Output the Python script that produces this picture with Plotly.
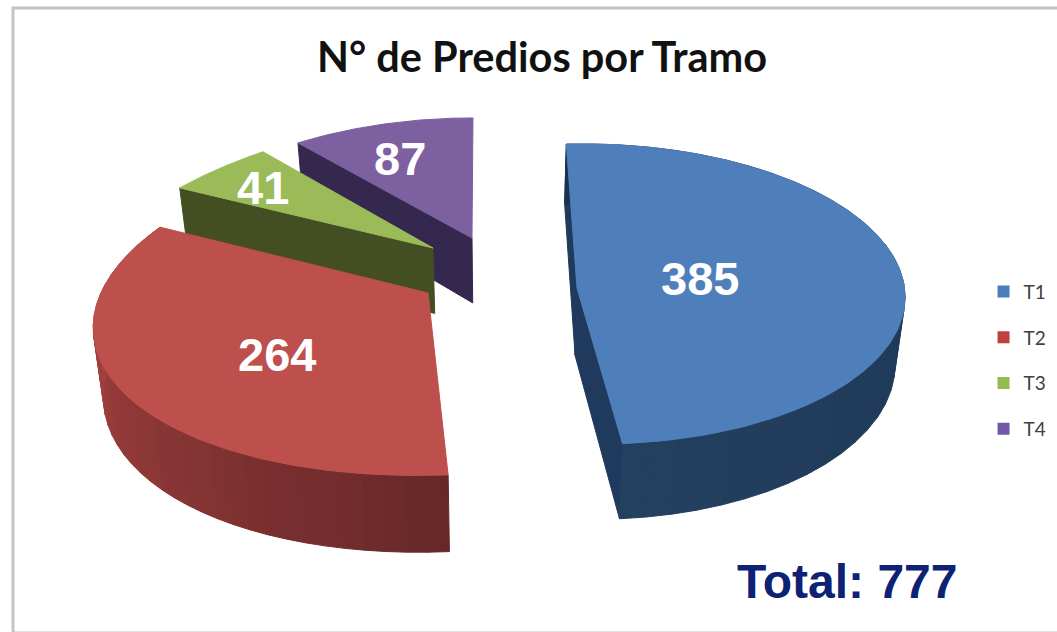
import numpy as np
import plotly.graph_objects as go

# ---- data ----
categories = ["T1", "T2", "T3", "T4"]
values = [385, 264, 41, 87]
title_text = "N° de Predios por Tramo"

# ---- style ----
top_colors = ["#4f7fba", "#bd4f4c", "#9bbb59", "#7d60a0"]
cut_colors = ["#1f3a5c", "#6a2a2a", "#434f22", "#35284f"]
wall_start = ["#1a3150", "#682828", "#434f22", "#35284f"]
wall_end = ["#24405f", "#b34846", "#434f22", "#35284f"]
legend_colors = ["#4a7ebb", "#c0403d", "#94bb50", "#7358a8"]
START_ANGLE = 95.0

# per-slice projection of the unit circle: centre, x=(a,b), y=(c,d), and wedge tip
proj = {
    "T1": dict(cx=590, cy=294, a=315, b=3.8, c=150, d=5, tip=(577, 288)),
    "T2": dict(cx=465, cy=305.4, a=367, b=59.6, c=170, d=5, tip=(428, 293)),
    "T3": dict(cx=408, cy=246, a=300, b=97, c=134, d=0, tip=(433, 248)),
    "T4": dict(cx=430, cy=225, a=250, b=65, c=106.6, d=10, tip=(472, 238)),
}
# which straight cut of each wedge faces the viewer: 0 = first edge, -1 = last edge
cut_faces = {"T1": (0, -1), "T2": (), "T3": (0,), "T4": (0,)}
curved_wall = {"T1": True, "T2": True, "T3": False, "T4": False}


def rim(p, t):
    r = np.radians(t)
    x = p["cx"] + p["a"] * np.cos(r) + p["b"] * np.sin(r)
    y = p["cy"] - p["c"] * np.sin(r) + p["d"] * np.cos(r)
    return x, y


def drop(x, y):
    """Lower edge of the pie's thickness under a point of the top face."""
    return x + 0.025 * (500 - x), y + 53 + 0.05 * y


def mix(c1, c2, f):
    a = [int(c1[i:i + 2], 16) for i in (1, 3, 5)]
    b = [int(c2[i:i + 2], 16) for i in (1, 3, 5)]
    return "rgb(%d,%d,%d)" % tuple(round(u + (v - u) * f) for u, v in zip(a, b))


def poly(xs, ys, color):
    return go.Scatter(x=list(xs), y=list(ys), mode="lines", fill="toself", fillcolor=color,
                      line=dict(color=color, width=1), hoverinfo="skip", showlegend=False)


total = sum(values)
spans = [v / total * 360 for v in values]
bounds = START_ANGLE - np.concatenate([[0], np.cumsum(spans)])

fig = go.Figure()

# paint back slices first, nearest last: T1, T4, T3, T2
for i in [0, 3, 2, 1]:
    name = categories[i]
    p = proj[name]
    t0, t1 = bounds[i], bounds[i + 1]
    ts = np.linspace(t0, t1, 121)
    rx, ry = rim(p, ts)
    tip = p["tip"]
    tx, ty = drop(*tip)

    for edge in cut_faces[name]:
        ex, ey = rx[edge], ry[edge]
        bx, by = drop(ex, ey)
        fig.add_trace(poly([ex, tip[0], tx, bx, ex], [ey, tip[1], ty, by, ey], cut_colors[i]))

    # outer curved wall in strips so that it shades along the arc
    if curved_wall[name]:
        n = 36
        edges = np.linspace(t0, t1, n + 1)
        for k in range(n):
            seg = np.linspace(edges[k], edges[k + 1], 5)
            sx, sy = rim(p, seg)
            dx, dy = drop(sx, sy)
            col = mix(wall_start[i], wall_end[i], k / (n - 1))
            fig.add_trace(poly(np.r_[sx, dx[::-1], sx[0]], np.r_[sy, dy[::-1], sy[0]], col))

    # top face
    fig.add_trace(poly(np.r_[tip[0], rx, tip[0]], np.r_[tip[1], ry, tip[1]], top_colors[i]))

# legend entries
for name, col in zip(categories, legend_colors):
    fig.add_trace(go.Scatter(x=[None], y=[None], mode="markers", name=name, legendgroup=name,
                             marker=dict(symbol="square", size=12, color=col)))

label_pos = [(700, 278), (277, 354), (263, 187), (400, 158)]
annots = [dict(x=x, y=y, text=str(v), showarrow=False,
               font=dict(family="Liberation Sans", size=47, color="white", weight="bold"))
          for (x, y), v in zip(label_pos, values)]
annots.append(dict(x=847, y=581, text="Total: %d" % total, showarrow=False,
                   font=dict(family="Liberation Sans", size=48, color="#0d2175", weight="bold")))
annots.append(dict(x=542, y=56, text=title_text, showarrow=False,
                   font=dict(family="Lato", size=41.5, color="#111111", weight="bold")))

fig.update_layout(
    width=1057, height=632, margin=dict(l=0, r=0, t=0, b=0),
    paper_bgcolor="white", plot_bgcolor="white",
    xaxis=dict(range=[0, 1057], visible=False, fixedrange=True),
    yaxis=dict(range=[632, 0], visible=False, fixedrange=True),
    annotations=annots,
    shapes=[dict(type="rect", xref="x", yref="y", x0=13, y0=8, x1=1075, y1=633,
                 line=dict(color="#c4c4c4", width=3), layer="below")],
    legend=dict(x=0.9305, y=0.43, xanchor="left", yanchor="middle", tracegroupgap=18,
                itemwidth=30, bgcolor="rgba(0,0,0,0)",
                font=dict(family="Lato", size=19, color="#404040")),
    showlegend=True,
)

fig.write_html("out.html", config={"displayModeBar": False},
               post_script="document.body.style.margin='0';document.body.style.overflow='hidden';")
